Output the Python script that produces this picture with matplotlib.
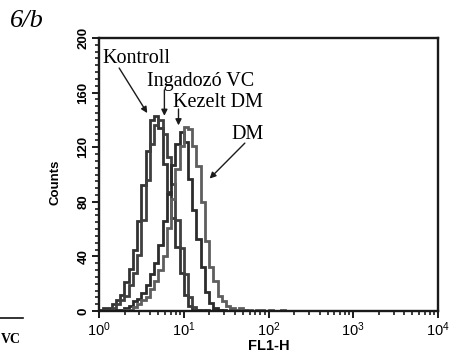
import numpy as np
import matplotlib
matplotlib.use("Agg")
import matplotlib.pyplot as plt
from matplotlib.ticker import LogLocator, MultipleLocator, NullFormatter
from matplotlib.lines import Line2D

plt.rcParams['font.family'] = ['Liberation Sans', 'DejaVu Sans']
plt.rcParams['mathtext.fontset'] = 'custom'
plt.rcParams['mathtext.rm'] = 'Liberation Sans'
plt.rcParams['mathtext.default'] = 'regular'

# histogram bins in log10(FL1-H), 0.05 decade wide
log_edges = np.arange(0, 2.5001, 0.05)

kontroll = [1, 2, 2, 5, 8, 12, 21, 31, 45, 66, 92, 117, 140, 143, 134, 108, 87, 68, 47, 28,
            12, 4, 1, 1, 0, 1, 0, 0, 1, 0, 0, 0, 0, 0, 0, 0, 0, 0, 0, 0,
            0, 0, 0, 0, 0, 0, 0, 0, 0, 0]
ingadozo_vc = [0, 1, 1, 2, 5, 8, 11, 19, 28, 41, 67, 96, 122, 136, 140, 130, 113, 93, 67, 46,
               27, 10, 3, 1, 1, 0, 0, 1, 0, 0, 0, 0, 0, 0, 0, 0, 0, 0, 0, 0,
               0, 0, 0, 0, 0, 0, 0, 0, 0, 0]
kezelt_dm = [0, 0, 0, 0, 1, 1, 2, 4, 7, 9, 13, 19, 27, 35, 48, 66, 86, 107, 122, 131,
             124, 97, 74, 53, 32, 14, 6, 2, 1, 1, 0, 1, 0, 0, 1, 0, 0, 0, 0, 0,
             0, 0, 0, 0, 0, 0, 0, 0, 0, 0]
dm = [0, 0, 0, 0, 0, 0, 1, 1, 3, 5, 8, 10, 16, 22, 30, 40, 61, 82, 104, 121,
      135, 133, 121, 106, 80, 51, 32, 22, 11, 7, 4, 2, 1, 2, 1, 1, 0, 1, 1, 0,
      1, 0, 0, 1, 0, 0, 0, 0, 0, 0]

series = [kontroll, ingadozo_vc, kezelt_dm, dm]
colors = ['#333333', '#404040', '#2c2c2c', '#5e5e5e']

fig = plt.figure(figsize=(4.55, 3.58), dpi=100)
ax = fig.add_axes([99 / 455, 1 - 311 / 358, 339 / 455, 273 / 358])

edges = 10 ** log_edges
for vals, c in zip(series, colors):
    ax.stairs(vals, edges, color=c, linewidth=2.0)

ax.set_xscale('log')
ax.set_xlim(1, 1e4)
ax.set_ylim(0, 200)

# axes styling
for sp in ax.spines.values():
    sp.set_linewidth(1.7)
    sp.set_color('#1a1a1a')

ax.yaxis.set_major_locator(MultipleLocator(40))
ax.yaxis.set_minor_locator(MultipleLocator(5))
ax.xaxis.set_major_locator(LogLocator(base=10, numticks=10))
ax.xaxis.set_minor_locator(LogLocator(base=10, subs=np.arange(2, 10), numticks=20))
ax.xaxis.set_minor_formatter(NullFormatter())

ax.tick_params(axis='both', which='major', direction='out', length=5, width=1.4,
               color='#1a1a1a')
ax.tick_params(axis='both', which='minor', direction='out', length=3, width=1.2,
               color='#1a1a1a')
ax.tick_params(axis='y', which='major', labelsize=9.5, pad=2)
ax.tick_params(axis='x', which='major', labelsize=10.5, pad=2)
for lab in ax.get_yticklabels():
    lab.set_rotation(90)
    lab.set_va('center')
    lab.set_fontweight('bold')

ax.set_ylabel('Counts', fontsize=9.5, fontweight='bold')
ax.yaxis.set_label_coords(-0.112, 0.47)
ax.set_xlabel('FL1-H', fontsize=10.5, fontweight='bold', labelpad=0)

# annotations
serif = ['Liberation Serif', 'DejaVu Serif']
arrow = dict(arrowstyle='-|>', color='#1a1a1a', lw=1.0, mutation_scale=9,
             shrinkA=0, shrinkB=0)
ax.text(0.009, 0.908, 'Kontroll', transform=ax.transAxes, family=serif, fontsize=14.5,
        va='baseline')
ax.annotate('', xy=(3.71, 145), xytext=(1.73, 178), arrowprops=arrow)
ax.text(0.142, 0.824, 'Ingadozó VC', transform=ax.transAxes, family=serif, fontsize=14.5,
        va='baseline')
ax.annotate('', xy=(5.91, 143), xytext=(5.91, 162), arrowprops=arrow)
ax.text(0.218, 0.747, 'Kezelt DM', transform=ax.transAxes, family=serif, fontsize=14.5,
        va='baseline')
ax.annotate('', xy=(8.67, 136), xytext=(8.67, 148), arrowprops=arrow)
ax.text(0.392, 0.630, 'DM', transform=ax.transAxes, family=serif, fontsize=14.5,
        va='baseline')
ax.annotate('', xy=(20.2, 97), xytext=(52.6, 123), arrowprops=arrow)

# panel label and neighbouring-panel remnants
fig.text(0.022, 0.925, '6/b', family=serif, style='italic', fontsize=19, va='baseline')
fig.add_artist(Line2D([0, 23 / 455], [1 - 318 / 358] * 2, color='#111111', lw=1.2,
                      transform=fig.transFigure))
fig.text(0.002, 1 - 343 / 358, 'VC', family=serif, fontweight='bold', fontsize=10,
         va='baseline')

fig.savefig('out.png', dpi=100)
